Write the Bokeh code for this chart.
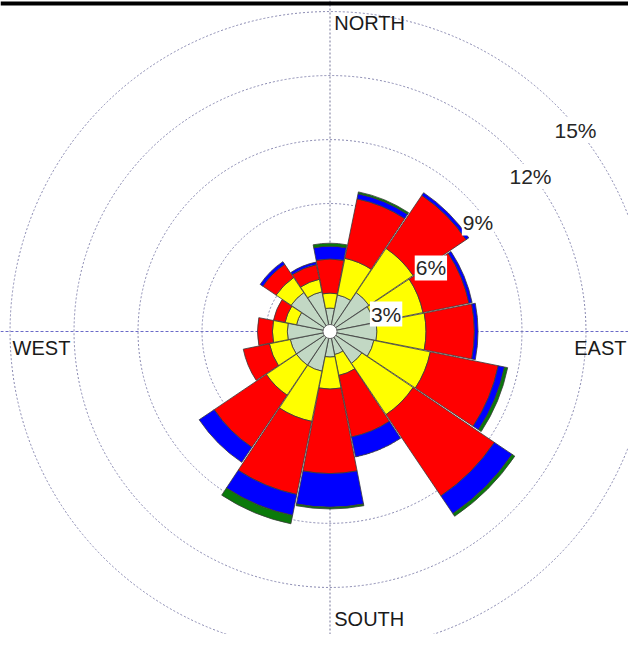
import numpy as np
from bokeh.plotting import figure
from bokeh.models import Range1d, Label, Span, ColumnDataSource
from bokeh.embed import file_html
from bokeh.resources import INLINE

# ---------------- data (percent frequency per direction and class) ----------------
directions = ["N", "NNE", "NE", "ENE", "E", "ESE", "SE", "SSE",
              "S", "SSW", "SW", "WSW", "W", "WNW", "NW", "NNW"]
bearings = [0.0, 22.5, 45.0, 67.5, 90.0, 112.5, 135.0, 157.5,
            180.0, 202.5, 225.0, 247.5, 270.0, 292.5, 315.0, 337.5]

class_1 = [1.10, 1.75, 2.20, 2.10, 2.20, 2.10, 1.80, 1.10, 1.20, 1.90, 1.90, 1.90, 2.00, 1.60, 2.20, 1.90]
class_2 = [0.70, 1.75, 2.50, 2.35, 2.30, 2.70, 2.90, 1.00, 1.50, 2.40, 1.70, 1.00, 0.70, 0.55, 0.85, 0.60]
class_3 = [1.60, 2.85, 3.00, 2.20, 2.27, 3.25, 4.60, 2.95, 3.96, 3.50, 2.95, 1.25, 0.70, 0.55, 0.75, 0.70]
class_4 = [0.60, 0.24, 0.15, 0.15, 0.17, 0.30, 1.00, 0.95, 1.58, 1.00, 0.85, 0.00, 0.00, 0.00, 0.15, 0.12]
class_5 = [0.14, 0.09, 0.00, 0.00, 0.00, 0.15, 0.15, 0.00, 0.08, 0.40, 0.00, 0.00, 0.00, 0.00, 0.00, 0.00]

class_colors = ["#C2D8C4", "#FFFF00", "#FF0000", "#0000FF", "#0A7A0A"]

ring_values = [3, 6, 9, 12, 15]
ring_labels = ["3%", "6%", "9%", "12%", "15%"]
ring_label_x = [2.63, 4.73, 6.94, 9.40, 11.51]
ring_label_y = [0.82, 2.98, 5.09, 7.27, 9.42]

compass_labels = ["NORTH", "SOUTH", "WEST", "EAST"]
compass_x = [0.20, 0.20, -14.88, 11.45]
compass_y = [14.96, -12.95, -0.28, -0.28]

# ---------------- layout ----------------
W, H = 628, 634
SCALE = 21.33          # px per percent
CX, CY = 329.5, 331.0  # centre in figure pixels
x0 = -CX / SCALE
x1 = (W - CX) / SCALE
y1 = CY / SCALE
y0 = -(H - CY) / SCALE

p = figure(width=W, height=H, output_backend="svg", toolbar_location=None,
           x_range=Range1d(x0, x1), y_range=Range1d(y0, y1),
           min_border=0, border_fill_color="white", background_fill_color="white")
p.axis.visible = False
p.grid.visible = False
p.outline_line_color = None

# axis cross lines (under the bars)
p.add_layout(Span(location=0, dimension="width", line_color="#6A6AC8",
                  line_dash="3 2", line_width=1, level="underlay"))
p.add_layout(Span(location=0, dimension="height", line_color="#777799",
                  line_dash="2 2", line_width=1, level="underlay"))

# rings
p.circle(x=[0] * len(ring_values), y=[0] * len(ring_values), radius=ring_values,
         fill_color=None, line_color="#8888B0", line_dash="2 2", line_width=1)

# stacked wedges
classes = [class_1, class_2, class_3, class_4, class_5]
half = np.deg2rad(11.0)
inner, outer, start, end, color = [], [], [], [], []
cum = np.zeros(len(directions))
for vals, col in zip(classes, class_colors):
    v = np.array(vals)
    for i in range(len(directions)):
        if v[i] <= 0:
            continue
        a = np.deg2rad(90.0 - bearings[i])
        inner.append(cum[i])
        outer.append(cum[i] + v[i])
        start.append(a - half)
        end.append(a + half)
        color.append(col)
    cum = cum + v

src = ColumnDataSource(dict(x=[0] * len(inner), y=[0] * len(inner), inner=inner, outer=outer,
                            start=start, end=end, color=color))
p.annular_wedge(x="x", y="y", inner_radius="inner", outer_radius="outer",
                start_angle="start", end_angle="end", fill_color="color",
                line_color="#3A3A3A", line_width=0.8, source=src)

# centre calm circle
p.circle(x=[0], y=[0], radius=[0.33], fill_color="white", line_color="#666666", line_width=1)

# ring labels
for t, lx, ly in zip(ring_labels, ring_label_x, ring_label_y):
    p.add_layout(Label(x=lx, y=ly, text=t, text_align="center", text_baseline="middle",
                       text_font="Liberation Sans", text_font_size="21px", text_color="#262626",
                       background_fill_color="white", padding=1))

# compass labels
for t, lx, ly in zip(compass_labels, compass_x, compass_y):
    p.add_layout(Label(x=lx, y=ly, text=t, text_align="left", text_baseline="top",
                       text_font="Liberation Sans", text_font_size="20px", text_color="#1A1A1A"))

# top border line
p.add_layout(Span(location=y1 - 3.0 / SCALE, dimension="width", line_color="black", line_width=4))

open("out.html", "w").write(file_html(p, INLINE))
